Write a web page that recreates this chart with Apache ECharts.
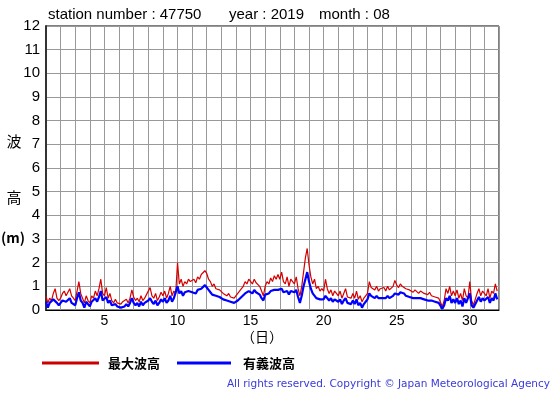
<!DOCTYPE html>
<html>
<head>
<meta charset="utf-8">
<script src="https://cdn.jsdelivr.net/npm/echarts@6/dist/echarts.min.js"></script>
<style>html,body{margin:0;padding:0;background:#fff;}#c{width:555px;height:395px;}</style>
</head>
<body>
<div id="c"></div>
<script>
// Observation start (day of month) and spacing (hours) of the values below
const startDay = 1;
const stepHours = 3;
// 最大波高 (m), 8 values per day, Aug 1..31
const maxWave = [
0.6,0.3,0.5,0.4,0.7,0.9,0.5,0.4,
0.5,0.7,0.8,0.6,0.75,0.9,0.6,0.5,
0.4,0.8,1.2,0.7,0.5,0.3,0.6,0.4,
0.3,0.6,0.5,0.8,0.6,0.9,1.3,0.7,
0.6,0.95,0.5,0.7,0.4,0.3,0.45,0.3,
0.3,0.25,0.35,0.3,0.45,0.3,0.5,0.85,
0.55,0.4,0.5,0.35,0.6,0.4,0.5,0.65,
0.7,0.95,0.6,0.5,0.7,0.4,0.55,0.75,
0.6,0.8,0.5,0.7,1.0,0.6,0.8,0.7,
2.0,1.1,1.3,1.0,1.2,1.1,1.3,1.2,
1.2,1.3,1.15,1.4,1.3,1.5,1.45,1.66,
1.55,1.3,1.2,1.0,1.1,0.9,0.95,0.85,
0.8,0.7,0.75,0.6,0.7,0.55,0.6,0.5,
0.55,0.7,0.65,0.9,1.0,1.2,1.1,1.3,
1.25,1.1,1.3,1.15,1.2,1.0,0.8,0.6,
1.0,1.2,1.1,1.35,1.2,1.45,1.3,1.5,
1.3,1.6,1.2,1.1,1.4,1.0,1.3,1.2,
1.1,1.4,0.9,0.6,1.0,1.6,2.2,2.6,
1.9,1.4,1.1,1.3,0.9,1.0,0.8,0.9,
0.8,1.3,0.9,0.7,0.85,0.6,0.8,0.7,
0.6,0.8,0.5,0.7,0.9,0.55,0.6,0.5,
0.7,0.5,0.8,0.45,0.6,0.35,0.5,0.6,
0.7,1.2,0.95,0.9,0.85,1.0,0.8,0.9,
0.85,0.95,0.8,1.0,0.85,0.9,1.0,1.25,
1.05,0.95,1.1,1.0,1.05,0.9,0.95,0.85,
0.8,0.75,0.85,0.8,0.7,0.8,0.75,0.7,
0.7,0.65,0.75,0.6,0.65,0.55,0.6,0.5,
0.45,0.15,0.4,0.9,0.7,1.0,0.6,0.8,
0.6,0.85,0.5,0.7,0.4,0.9,0.6,0.5,
1.2,0.4,0.2,0.15,0.7,0.9,0.6,0.8,
0.7,0.6,0.9,0.5,0.8,0.7,1.1,0.8
];
// 有義波高 (m)
const sigWave = [
0.35,0.1,0.3,0.25,0.45,0.5,0.3,0.2,
0.3,0.4,0.45,0.35,0.4,0.5,0.3,0.25,
0.2,0.5,0.75,0.4,0.3,0.1,0.35,0.25,
0.15,0.35,0.3,0.5,0.35,0.55,0.8,0.4,
0.35,0.55,0.3,0.4,0.2,0.15,0.25,0.15,
0.15,0.1,0.15,0.15,0.25,0.15,0.3,0.5,
0.3,0.2,0.3,0.15,0.35,0.2,0.3,0.35,
0.4,0.5,0.35,0.25,0.4,0.2,0.3,0.45,
0.35,0.5,0.3,0.4,0.6,0.35,0.5,0.45,
1.0,0.7,0.8,0.6,0.75,0.7,0.8,0.75,
0.75,0.8,0.7,0.85,0.8,0.9,0.95,1.05,
0.95,0.85,0.75,0.65,0.7,0.6,0.6,0.55,
0.5,0.45,0.45,0.4,0.45,0.35,0.35,0.3,
0.35,0.4,0.4,0.55,0.6,0.7,0.7,0.8,
0.8,0.7,0.85,0.75,0.75,0.65,0.5,0.4,
0.65,0.7,0.7,0.8,0.75,0.85,0.8,0.85,
0.8,0.9,0.75,0.7,0.8,0.65,0.8,0.75,
0.75,0.85,0.55,0.3,0.6,1.0,1.3,1.6,
1.2,0.9,0.7,0.75,0.5,0.55,0.45,0.5,
0.45,0.6,0.55,0.4,0.5,0.35,0.45,0.4,
0.35,0.45,0.25,0.4,0.5,0.3,0.35,0.25,
0.4,0.25,0.45,0.2,0.3,0.1,0.25,0.35,
0.45,0.7,0.6,0.55,0.5,0.6,0.5,0.55,
0.5,0.55,0.5,0.6,0.5,0.55,0.6,0.7,
0.7,0.65,0.75,0.7,0.7,0.6,0.6,0.55,
0.5,0.5,0.55,0.5,0.45,0.5,0.45,0.45,
0.45,0.4,0.45,0.4,0.4,0.35,0.35,0.3,
0.3,0.05,0.2,0.5,0.4,0.6,0.3,0.45,
0.3,0.5,0.25,0.4,0.15,0.5,0.3,0.25,
0.7,0.2,0.1,0.05,0.4,0.55,0.35,0.5,
0.4,0.35,0.55,0.3,0.5,0.4,0.7,0.45
];
const xTickLabels = [5, 10, 15, 20, 25, 30];
const yTickLabels = [0,1,2,3,4,5,6,7,8,9,10,11,12];
const titleParts = ['station number : 47750', 'year : 2019', 'month : 08'];
const legendNames = ['最大波高', '有義波高'];

const toPairs = arr => arr.map((v, i) => [startDay + i * stepHours / 24, v]);

const chart = echarts.init(document.getElementById('c'), null, {renderer: 'canvas'});
const font = 'Liberation Sans, Arial, Helvetica, sans-serif';
chart.setOption({
  animation: false,
  backgroundColor: '#fff',
  grid: {left: 46, right: 56, top: 26, bottom: 85, show: true, borderColor: '#000', borderWidth: 1},
  xAxis: {
    type: 'value', min: 1, max: 32, interval: 1,
    axisLine: {show: true, lineStyle: {color: '#000', width: 1}},
    axisTick: {show: false},
    splitLine: {show: true, lineStyle: {color: '#999', width: 1}},
    axisLabel: {
      fontFamily: font, fontSize: 14, color: '#000', margin: 4,
      formatter: v => xTickLabels.includes(Math.round(v)) && Math.abs(v - Math.round(v)) < 1e-6 ? String(Math.round(v)) : ''
    }
  },
  yAxis: {
    type: 'value', min: 0, max: 12, interval: 1,
    axisLine: {show: true, lineStyle: {color: '#333', width: 2}},
    axisTick: {show: false},
    splitLine: {show: true, lineStyle: {color: '#999', width: 1}},
    axisLabel: {
      fontFamily: font, fontSize: 15, color: '#000', margin: 6,
      formatter: v => yTickLabels.includes(v) ? String(v) : ''
    }
  },
  series: [
    {name: legendNames[0], type: 'line', data: toPairs(maxWave), showSymbol: false, symbol: 'none',
     lineStyle: {color: '#d40000', width: 1.2}, itemStyle: {color: '#d40000'}, z: 2},
    {name: legendNames[1], type: 'line', data: toPairs(sigWave), showSymbol: false, symbol: 'none',
     lineStyle: {color: '#0000ff', width: 2.2}, itemStyle: {color: '#0000ff'}, z: 3}
  ],
  graphic: [
    {type: 'text', left: 48, top: 7, style: {text: titleParts[0], font: '15px ' + font, fill: '#000'}},
    {type: 'text', left: 229, top: 7, style: {text: titleParts[1], font: '15px ' + font, fill: '#000'}},
    {type: 'text', left: 319, top: 7, style: {text: titleParts[2], font: '15px ' + font, fill: '#000'}},
    {type: 'text', x: 14, y: 141, style: {text: '波', font: '15px "Noto Sans CJK JP"', fill: '#000', align: 'center', verticalAlign: 'middle'}},
    {type: 'text', x: 14, y: 197, style: {text: '高', font: '15px "Noto Sans CJK JP"', fill: '#000', align: 'center', verticalAlign: 'middle'}},
    {type: 'text', x: 13, y: 238, style: {text: '(m)', font: 'bold 14px "Noto Sans CJK JP"', fill: '#000', align: 'center', verticalAlign: 'middle'}},
    {type: 'text', x: 262, y: 337, style: {text: '（日）', font: '14px "Noto Sans CJK JP"', fill: '#000', align: 'center', verticalAlign: 'middle'}},
    {type: 'line', shape: {x1: 42, y1: 363, x2: 99, y2: 363}, style: {stroke: '#cc0000', lineWidth: 3}},
    {type: 'text', x: 108, y: 363, style: {text: legendNames[0], font: 'bold 13px "Noto Sans CJK JP"', fill: '#000', verticalAlign: 'middle'}},
    {type: 'line', shape: {x1: 177, y1: 363, x2: 231, y2: 363}, style: {stroke: '#0000ff', lineWidth: 3}},
    {type: 'text', x: 243, y: 363, style: {text: legendNames[1], font: 'bold 13px "Noto Sans CJK JP"', fill: '#000', verticalAlign: 'middle'}},
    {type: 'text', x: 550, y: 384, style: {text: 'All rights reserved. Copyright © Japan Meteorological Agency', font: '10.5px "DejaVu Sans"', fill: '#3a3ad8', align: 'right', verticalAlign: 'middle'}}
  ]
});
</script>
</body>
</html>
